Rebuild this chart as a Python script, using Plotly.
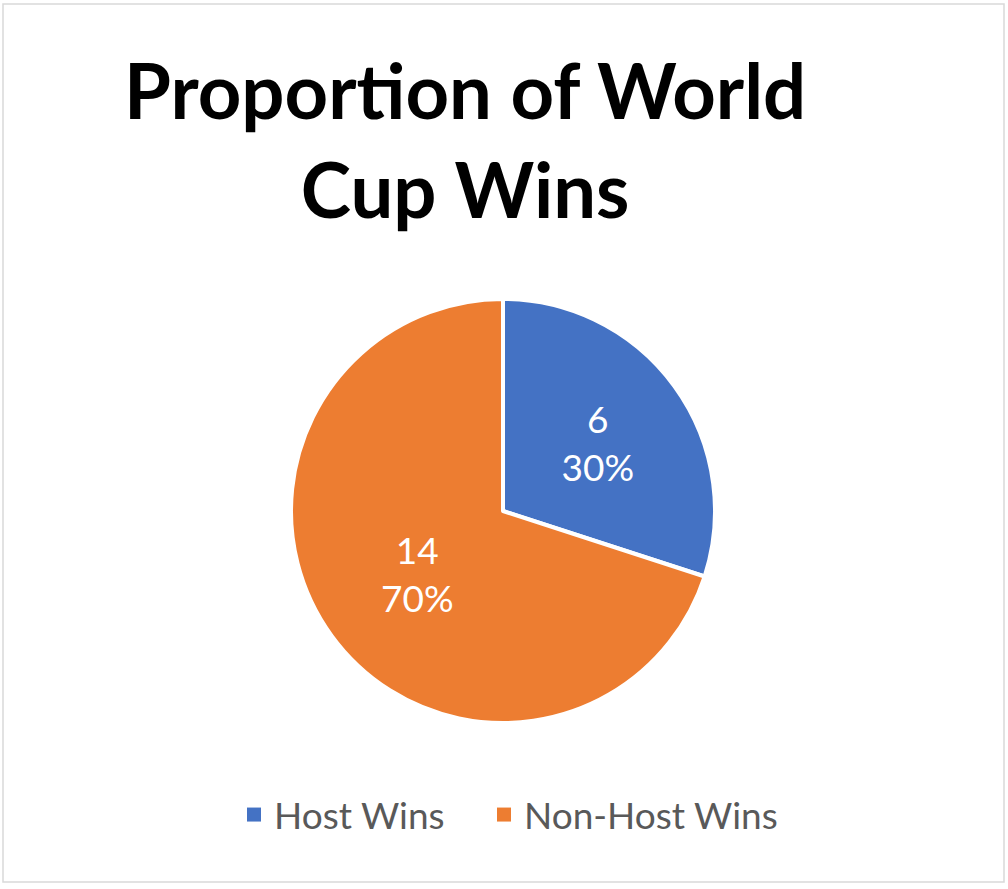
import plotly.graph_objects as go

categories = ["Host Wins", "Non-Host Wins"]
wins = [6, 14]
colors = ["#4472C4", "#ED7D31"]
title_text = "Proportion of World<br>Cup Wins"

W, H = 1008, 889
cx, cy, r = 503, 511, 212

fig = go.Figure(go.Pie(
    labels=categories,
    values=wins,
    sort=False,
    direction="clockwise",
    rotation=0,
    marker=dict(colors=colors, line=dict(color="white", width=4)),
    texttemplate="%{value}<br>%{percent:.0%}",
    textposition="inside",
    insidetextorientation="horizontal",
    textfont=dict(family="Lato", size=37, color="white"),
    domain=dict(x=[(cx - r) / W, (cx + r) / W], y=[1 - (cy + r) / H, 1 - (cy - r) / H]),
    hoverinfo="label+value+percent",
    showlegend=False,
))

# legend entries (one legend per category, placed like the original)
legend_ids = ["legend", "legend2"]
legend_symbol_x = [254, 504]
for name, col, lid in zip(categories, colors, legend_ids):
    fig.add_trace(go.Scatter(
        x=[None], y=[None], mode="markers", name=name,
        marker=dict(symbol="square", size=14, color=col),
        legend=lid, showlegend=True, hoverinfo="skip",
    ))

legend_common = dict(
    orientation="h",
    xanchor="left",
    y=1 - 815 / H, yanchor="middle",
    font=dict(family="Lato", size=37, color="#595959"),
    bgcolor="rgba(0,0,0,0)",
)

fig.update_layout(
    width=W, height=H,
    margin=dict(l=0, r=0, t=0, b=0),
    paper_bgcolor="white",
    plot_bgcolor="white",
    xaxis=dict(visible=False),
    yaxis=dict(visible=False),
    legend=dict(x=(legend_symbol_x[0] - 20) / W, **legend_common),
    legend2=dict(x=(legend_symbol_x[1] - 20) / W, **legend_common),
    annotations=[dict(
        text="<b>" + title_text + "</b>",
        x=465 / W, y=1 - 139 / H, xref="paper", yref="paper",
        xanchor="center", yanchor="middle",
        showarrow=False,
        font=dict(family="Lato", size=76, color="black"),
        align="center",
    )],
    shapes=[dict(
        type="rect", xref="paper", yref="paper",
        x0=3 / W, x1=1004 / W, y0=1 - 882 / H, y1=1 - 4 / H,
        line=dict(color="#D9D9D9", width=1.5),
    )],
)

fig.write_html("out.html", config={"displayModeBar": False},
               post_script="document.body.style.margin='0';")
